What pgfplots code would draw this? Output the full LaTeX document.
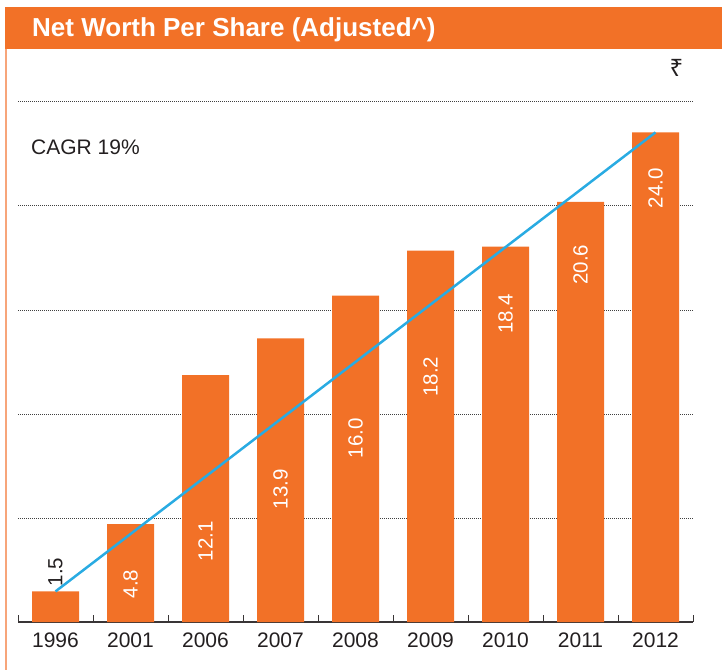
\documentclass[border=0pt]{standalone}
\usepackage{fontspec}
\setmainfont{Liberation Sans}
\newfontfamily\rupeefont{Noto Sans}
\usepackage{pgfplots}
\pgfplotsset{compat=1.18}
\usepackage{pgfplotstable}
\definecolor{barorange}{HTML}{F27127}
\definecolor{lineblue}{HTML}{29ABE2}
\definecolor{txt}{HTML}{231F20}
\definecolor{borderor}{HTML}{F7A57A}

\pgfplotstableread{
x y
0.5 1.5
1.5 4.8
2.5 12.1
3.5 13.9
4.5 16.0
5.5 18.2
6.5 18.4
7.5 20.6
8.5 24.0
}\bars

\pgfplotstableread{
x y label
1.5 1.86 4.8
2.5 3.95 12.1
3.5 6.50 13.9
4.5 9.00 16.0
5.5 12.03 18.2
6.5 15.10 18.4
7.5 17.52 20.6
8.5 21.27 24.0
}\whitelabels

\pgfplotstableread{
x y label
0.5 2.45 1.5
}\darklabels

\pgfplotstableread{
x y
0.5 1.5
8.5 24.0
}\trend

\begin{document}
\begin{tikzpicture}[x=1pt,y=1pt]
\useasboundingbox (0,0) rectangle (722,670);
% title bar
\fill[barorange] (5,621) rectangle (722,663);
\draw[borderor, line width=1.3pt] (6,621) -- (6,0);
\node[anchor=base west, inner sep=0pt, text=white, font=\bfseries\fontsize{26}{30}\selectfont] at (32,633) {Net Worth Per Share (Adjusted\^{})};
\node[anchor=base west, inner sep=0pt, text=txt, font=\fontsize{21}{25}\selectfont] at (31,515) {CAGR 19\%};
\node[anchor=base, inner sep=0pt, text=txt, font=\rupeefont\fontsize{24}{28}\selectfont] at (676.5,593) {₹};
\begin{axis}[
  at={(18pt,48pt)}, anchor=south west,
  scale only axis, width=675pt, height=530.4pt,
  xmin=0, xmax=9, ymin=0, ymax=26,
  axis x line=bottom, axis y line=left,
  x axis line style={-, draw=txt!90, line width=1.2pt},
  y axis line style={draw=none},
  xtick={0.5,1.5,...,8.5},
  xticklabels={1996,2001,2006,2007,2008,2009,2010,2011,2012},
  major x tick style={draw=none},
  extra x ticks={0,1,...,9},
  extra x tick labels={},
  extra x tick style={major tick length=7pt, tick align=inside, major x tick style={draw=txt!90, line width=1pt}, xmajorgrids=false},
  tick align=inside,
  ytick={5.1,10.2,15.3,20.4,25.5},
  yticklabels={},
  major y tick style={draw=none},
  ymajorgrids,
  grid style={draw=black!75, line width=0.7pt, dash pattern=on 0.7pt off 1.3pt},
  xticklabel style={font=\fontsize{21}{25}\selectfont, text=txt, yshift=-7pt},
  /pgf/number format/assume math mode=true,
  clip=false,
]
\addplot[ybar, bar width=47pt, bar shift=0pt, fill=barorange, draw=none] table[x=x,y=y] {\bars};
\addplot[lineblue, line width=2.5pt] table[x=x,y=y] {\trend};
\addplot[draw=none, mark=none, nodes near coords, point meta=explicit symbolic,
  nodes near coords style={anchor=center, rotate=90, text=white, font=\fontsize{20.5}{24}\selectfont, inner sep=0pt}]
  table[x=x,y=y,meta=label] {\whitelabels};
\addplot[draw=none, mark=none, nodes near coords, point meta=explicit symbolic,
  nodes near coords style={anchor=center, rotate=90, text=txt, font=\fontsize{20.5}{24}\selectfont, inner sep=0pt}]
  table[x=x,y=y,meta=label] {\darklabels};
\end{axis}
\end{tikzpicture}
\end{document}
